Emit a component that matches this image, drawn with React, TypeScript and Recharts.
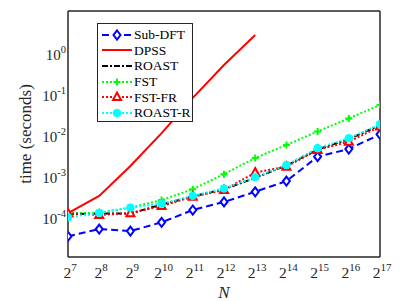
import React from 'react'
import { LineChart, Line, XAxis, YAxis, Legend } from 'recharts'

// N = 2^k
const exponents = [7, 8, 9, 10, 11, 12, 13, 14, 15, 16, 17]
const yTicks = [1e-4, 1e-3, 1e-2, 1e-1, 1]

const subDft = [3.2e-5, 4.8e-5, 4.3e-5, 7.0e-5, 1.4e-4, 2.2e-4, 3.9e-4, 7.1e-4, 2.8e-3, 4.3e-3, 9.8e-3]
const dpss = [1.17e-4, 3.1e-4, 1.66e-3, 1.05e-2, 7.6e-2, 0.48, 2.6, null, null, null, null]
const roast = [1.1e-4, 1.15e-4, 1.15e-4, 1.9e-4, 3.0e-4, 4.5e-4, 8.5e-4, 1.7e-3, 4.2e-3, 7.5e-3, 1.65e-2]
const fst = [1.17e-4, 1.2e-4, 1.6e-4, 2.45e-4, 4.5e-4, 1.05e-3, 2.6e-3, 5.4e-3, 1.15e-2, 2.4e-2, 5.1e-2]
const fstFr = [1.17e-4, 1.06e-4, 1.17e-4, 1.75e-4, 2.95e-4, 4.3e-4, 1.15e-3, 1.6e-3, 4.1e-3, 6.5e-3, 1.52e-2]
const roastR = [9.3e-5, 1.2e-4, 1.6e-4, 2.0e-4, 3.1e-4, 4.7e-4, 8.8e-4, 1.75e-3, 4.5e-3, 7.9e-3, 1.73e-2]

const rows = exponents.map((k, i) => ({
  k,
  subDft: subDft[i],
  dpss: dpss[i],
  roast: roast[i],
  fst: fst[i],
  fstFr: fstFr[i],
  roastR: roastR[i],
}))

const FONT = '"Liberation Serif", "DejaVu Serif", serif'
const AXIS = '#262626'

// marker shapes, drawn at the point the library gives
const diamond = (cx: number, cy: number, key?: any) => (
  <path key={key} d={`M${cx},${cy - 4.5}L${cx + 3.5},${cy}L${cx},${cy + 4.5}L${cx - 3.5},${cy}Z`}
    fill="#fff" stroke="#0000ff" strokeWidth={2} />
)
const plus = (cx: number, cy: number, key?: any) => (
  <path key={key} d={`M${cx - 3.5},${cy}H${cx + 3.5}M${cx},${cy - 3.5}V${cy + 3.5}`}
    stroke="#00ff00" strokeWidth={2} fill="none" />
)
const triangle = (cx: number, cy: number, key?: any) => (
  <path key={key} d={`M${cx},${cy - 4.5}L${cx + 4},${cy + 3}L${cx - 4},${cy + 3}Z`}
    fill="#fff" stroke="#ff0000" strokeWidth={2} />
)
const circle = (cx: number, cy: number, key?: any) => (
  <circle key={key} cx={cx} cy={cy} r={3.8} fill="#00ffff" stroke="#00ffff" strokeWidth={1} />
)

const dotOf = (fn: (cx: number, cy: number, key?: any) => any) => (p: any) => {
  if (p.cx == null || p.cy == null || p.value == null) return <g key={p.index} />
  return fn(p.cx, p.cy, p.index)
}

const SERIES = [
  { key: 'subDft', name: 'Sub-DFT', color: '#0000ff', dash: '7 4', width: 2, marker: diamond },
  { key: 'dpss', name: 'DPSS', color: '#ff0000', dash: undefined, width: 2, marker: null },
  { key: 'roast', name: 'ROAST', color: '#000000', dash: '6 2 2 2', width: 2, marker: null },
  { key: 'fst', name: 'FST', color: '#00ff00', dash: '2 2', width: 2, marker: plus },
  { key: 'fstFr', name: 'FST-FR', color: '#ff0000', dash: '2 2', width: 2, marker: triangle },
  { key: 'roastR', name: 'ROAST-R', color: '#00ffff', dash: '2 2', width: 2, marker: circle },
]

const XTick = (props: any) => {
  const { x, y, payload } = props
  return (
    <text x={x + 2} y={y + 21} textAnchor="middle" fontFamily={FONT} fontSize={15.5} fill={AXIS}>
      <tspan>2</tspan>
      <tspan dy={-7} fontSize={11}>{payload.value}</tspan>
    </text>
  )
}

const YTick = (props: any) => {
  const { x, y, payload } = props
  const e = Math.round(Math.log10(payload.value))
  return (
    <text x={x - 2} y={y + 8} textAnchor="end" fontFamily={FONT} fontSize={15} fill={AXIS}>
      <tspan>10</tspan>
      <tspan dy={-7} fontSize={10.5}>{e}</tspan>
    </text>
  )
}

const LegendBox = () => (
  <div style={{
    width: 96, height: 99, boxSizing: 'border-box', border: `1.5px solid ${AXIS}`,
    background: '#fff', padding: '3px 0 0 3px', fontFamily: FONT, fontSize: 13.5, color: '#000',
  }}>
    {SERIES.map((s) => (
      <div key={s.key} style={{ display: 'flex', alignItems: 'center', height: 15.6 }}>
        <svg width={32} height={14} style={{ flex: 'none' }}>
          <line x1={1} y1={7} x2={31} y2={7} stroke={s.color} strokeWidth={s.width}
            strokeDasharray={s.dash} />
          {s.marker && s.marker(16, 7)}
        </svg>
        <span style={{ marginLeft: 1, lineHeight: '15px' }}>{s.name}</span>
      </div>
    ))}
  </div>
)

export default function App() {
  return (
    <div style={{ position: 'absolute', left: 0, top: 0, width: 402, height: 301, background: '#fff' }}>
      <LineChart width={402} height={301} data={rows} margin={{ top: 11, right: 22, bottom: 0, left: 0 }}>
        {/* labels only */}
        <XAxis xAxisId="x" dataKey="k" type="number" domain={[7, 17]} ticks={exponents}
          allowDataOverflow axisLine={false} tickLine={false} tickSize={0} tickMargin={0}
          height={44} tick={<XTick />} interval={0}
          label={{
            content: (p: any) => {
              const vb = p.viewBox
              return (
                <text x={vb.x + vb.width / 2} y={298} textAnchor="middle" fontFamily={FONT}
                  fontSize={17} fontStyle="italic" fill={AXIS}>N</text>
              )
            },
          }} />
        <YAxis yAxisId="y" type="number" scale="log" domain={[1e-5, 10]} ticks={yTicks}
          allowDataOverflow axisLine={false} tickLine={false} tickSize={0} tickMargin={0}
          width={68} tick={<YTick />} interval={0}
          label={{
            content: (p: any) => {
              const vb = p.viewBox
              const cy = vb.y + vb.height / 2
              return (
                <text x={31} y={cy} transform={`rotate(-90, 31, ${cy})`} textAnchor="middle"
                  fontFamily={FONT} fontSize={17} fill={AXIS}>time (seconds)</text>
              )
            },
          }} />
        {/* box with inward ticks */}
        <XAxis xAxisId="b" type="number" domain={[7, 17]} ticks={exponents} allowDataOverflow
          orientation="bottom" mirror tick={false} tickSize={4} height={20} interval={0}
          stroke={AXIS} strokeWidth={1.5} />
        <XAxis xAxisId="t" type="number" domain={[7, 17]} ticks={exponents} allowDataOverflow
          orientation="top" mirror tick={false} tickSize={4} height={20} interval={0}
          stroke={AXIS} strokeWidth={1.5} />
        <YAxis yAxisId="l" type="number" scale="log" domain={[1e-5, 10]} ticks={yTicks} allowDataOverflow
          orientation="left" mirror tick={false} tickSize={4} width={20} interval={0}
          stroke={AXIS} strokeWidth={1.5} />
        <YAxis yAxisId="r" type="number" scale="log" domain={[1e-5, 10]} ticks={yTicks} allowDataOverflow
          orientation="right" mirror tick={false} tickSize={4} width={20} interval={0}
          stroke={AXIS} strokeWidth={1.5} />
        <Legend layout="vertical" align="center" verticalAlign="middle" content={<LegendBox />}
          wrapperStyle={{ left: 97, top: 23, width: 96, height: 99 }} />
        {SERIES.map((s) => (
          <Line key={s.key} xAxisId="x" yAxisId="y" type="linear" dataKey={s.key} name={s.name}
            stroke={s.color} strokeWidth={s.width} strokeDasharray={s.dash}
            dot={s.marker ? dotOf(s.marker) : false} activeDot={false}
            connectNulls={false} isAnimationActive={false} />
        ))}
      </LineChart>
    </div>
  )
}
